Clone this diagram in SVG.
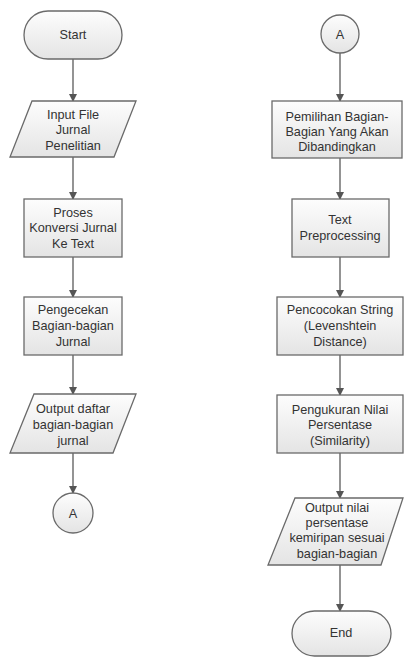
<svg xmlns="http://www.w3.org/2000/svg" width="404" height="657" viewBox="0 0 404 657">
<defs>
<linearGradient id="g" x1="0" y1="0" x2="0" y2="1">
<stop offset="0" stop-color="#fdfdfd"/>
<stop offset="1" stop-color="#e4e4e4"/>
</linearGradient>
<marker id="arr" markerWidth="8" markerHeight="8" refX="7" refY="4" orient="auto" markerUnits="userSpaceOnUse">
<path d="M0,0 L8,4 L0,8 Z" fill="#555"/>
</marker>
</defs>
<style>
.s{fill:url(#g);stroke:#6a6a6a;stroke-width:1.3}
.t{font-family:"Liberation Sans",Arial,sans-serif;font-size:12.7px;fill:#333;text-anchor:middle}
.c{stroke:#666;stroke-width:1.4;fill:none;marker-end:url(#arr)}
</style>
<rect width="404" height="657" fill="#fff"/>
<g id="connectors">
<line class="c" x1="73" y1="59" x2="73" y2="101"/>
<line class="c" x1="73" y1="157" x2="73" y2="199"/>
<line class="c" x1="73" y1="257" x2="73" y2="297"/>
<line class="c" x1="73" y1="355" x2="73" y2="394"/>
<line class="c" x1="73" y1="453" x2="73" y2="493"/>
<line class="c" x1="340" y1="53" x2="340" y2="101"/>
<line class="c" x1="340" y1="158" x2="340" y2="199"/>
<line class="c" x1="340" y1="257" x2="340" y2="297"/>
<line class="c" x1="340" y1="355" x2="340" y2="395"/>
<line class="c" x1="340" y1="453" x2="340" y2="498"/>
<line class="c" x1="340" y1="565" x2="340" y2="611"/>
</g>
<g id="start">
<rect class="s" x="24" y="11" width="98" height="48" rx="24"/>
<text class="t" x="73" y="38.5">Start</text>
</g>
<g id="input">
<polygon class="s" points="32,101 136,101 114,157 10,157"/>
<text class="t" x="73" y="118.5">Input File</text>
<text class="t" x="73" y="134">Jurnal</text>
<text class="t" x="73" y="149.5">Penelitian</text>
</g>
<g id="proses">
<rect class="s" x="24" y="199" width="98" height="58"/>
<text class="t" x="73" y="216.5">Proses</text>
<text class="t" x="73" y="232">Konversi Jurnal</text>
<text class="t" x="73" y="247.5">Ke Text</text>
</g>
<g id="pengecekan">
<rect class="s" x="24" y="297" width="98" height="58"/>
<text class="t" x="73" y="313.5">Pengecekan</text>
<text class="t" x="73" y="329.5">Bagian-bagian</text>
<text class="t" x="73" y="345.5">Jurnal</text>
</g>
<g id="output1">
<polygon class="s" points="34,394 136,394 113,453 10,453"/>
<text class="t" x="73" y="412.5">Output daftar</text>
<text class="t" x="73" y="428.5">bagian-bagian</text>
<text class="t" x="73" y="444.5">jurnal</text>
</g>
<g id="connA1">
<circle class="s" cx="73" cy="513" r="20"/>
<text class="t" x="73" y="517.5">A</text>
</g>
<g id="connA2">
<circle class="s" cx="340" cy="34" r="19"/>
<text class="t" x="340" y="38.5">A</text>
</g>
<g id="pemilihan">
<rect class="s" x="272" y="101" width="130" height="57"/>
<text class="t" x="337" y="121">Pemilihan Bagian-</text>
<text class="t" x="337" y="136">Bagian Yang Akan</text>
<text class="t" x="337" y="151">Dibandingkan</text>
</g>
<g id="preprocessing">
<rect class="s" x="292" y="199" width="97" height="58"/>
<text class="t" x="340" y="223.5">Text</text>
<text class="t" x="340" y="239.5">Preprocessing</text>
</g>
<g id="pencocokan">
<rect class="s" x="277" y="297" width="126" height="58"/>
<text class="t" x="340" y="313.5">Pencocokan String</text>
<text class="t" x="340" y="329.5">(Levenshtein</text>
<text class="t" x="340" y="345.5">Distance)</text>
</g>
<g id="pengukuran">
<rect class="s" x="277" y="395" width="126" height="58"/>
<text class="t" x="340" y="413.5">Pengukuran Nilai</text>
<text class="t" x="340" y="428.5">Persentase</text>
<text class="t" x="340" y="444.5">(Similarity)</text>
</g>
<g id="output2">
<polygon class="s" points="295,498 403,498 381,565 268,565"/>
<text class="t" x="337" y="511.5">Output nilai</text>
<text class="t" x="337" y="526.5">persentase</text>
<text class="t" x="337" y="542">kemiripan sesuai</text>
<text class="t" x="337" y="557.5">bagian-bagian</text>
</g>
<g id="end">
<rect class="s" x="292" y="611" width="99" height="45" rx="22.5"/>
<text class="t" x="341" y="637">End</text>
</g>
</svg>
